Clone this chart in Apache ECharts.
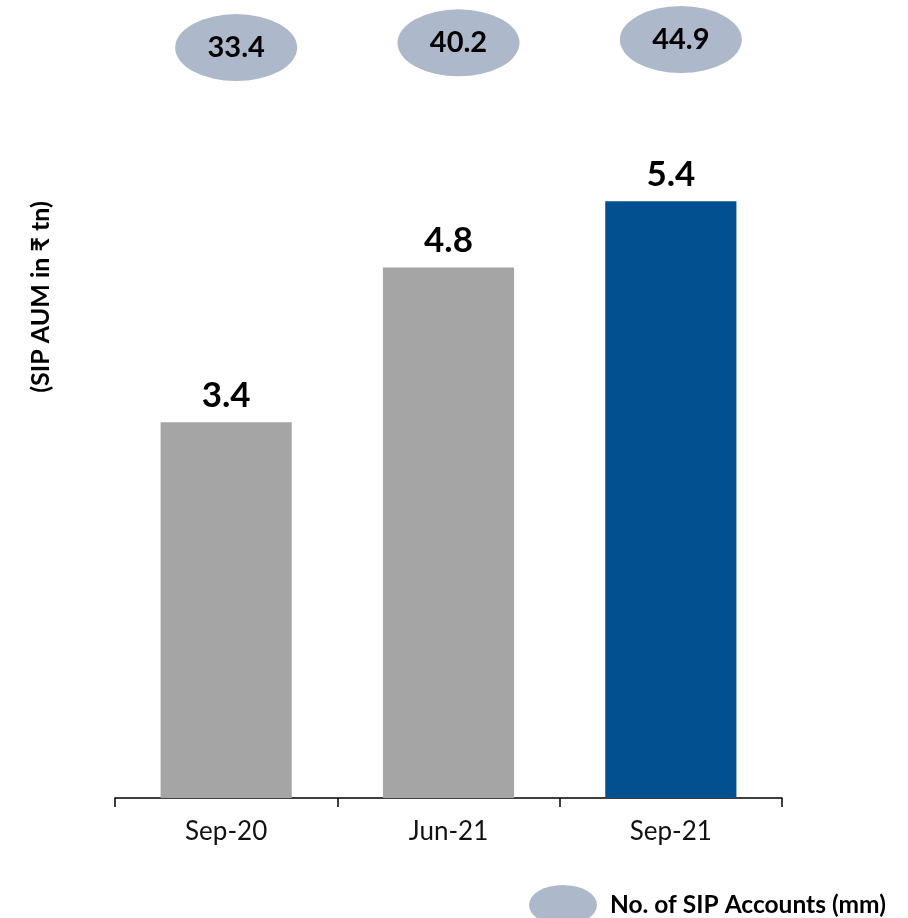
<!DOCTYPE html>
<html>
<head>
<meta charset="utf-8">
<script src="https://cdn.jsdelivr.net/npm/echarts@6/dist/echarts.min.js"></script>
<style>
  html, body { margin: 0; padding: 0; background: #ffffff; }
  #chart { width: 908px; height: 918px; }
</style>
</head>
<body>
<div id="chart"></div>
<script>
// Periods on the x axis
const categories = ['Sep-20', 'Jun-21', 'Sep-21'];
// SIP AUM, ₹ trillion
const aumValues = [3.4, 4.8, 5.4];
// Number of SIP accounts, millions
const accountValues = [33.4, 40.2, 44.9];
const barColors = ['#A5A5A5', '#A5A5A5', '#02508F'];

const FONT = 'Lato, "Noto Sans", "DejaVu Sans", sans-serif';
const ELLIPSE = 'path://M0,50 A50,50 0 1,1 100,50 A50,50 0 1,1 0,50 Z';

const chart = echarts.init(document.getElementById('chart'), null, { renderer: 'canvas' });

chart.setOption({
  backgroundColor: '#ffffff',
  animation: false,
  textStyle: { fontFamily: FONT },
  grid: [
    { left: 115, right: 126, top: 135, bottom: 120 },
    { left: 125, right: 116, top: 36, height: 14 }
  ],
  xAxis: [
    {
      type: 'category',
      gridIndex: 0,
      data: categories,
      axisLine: { show: true, lineStyle: { color: '#000000', width: 1.5 } },
      axisTick: { show: true, alignWithLabel: false, length: 9, lineStyle: { color: '#000000', width: 1.5 } },
      axisLabel: { color: '#111111', fontSize: 26, fontFamily: FONT, margin: 21 },
      splitLine: { show: false }
    },
    {
      type: 'category',
      gridIndex: 1,
      data: categories,
      show: false
    }
  ],
  yAxis: [
    {
      type: 'value',
      gridIndex: 0,
      min: 0,
      max: 6,
      show: false
    },
    {
      type: 'value',
      gridIndex: 1,
      min: 30,
      max: 50,
      show: false
    }
  ],
  legend: {
    left: 524,
    top: 880,
    itemWidth: 68,
    itemHeight: 40,
    symbolKeepAspect: false,
    data: [{ name: 'No. of SIP Accounts (mm)', icon: ELLIPSE }],
    itemStyle: { opacity: 1 },
    textStyle: {
      color: '#000000',
      fontSize: 24.5,
      fontWeight: 'bold',
      fontFamily: FONT,
      padding: [0, 0, 0, 8]
    }
  },
  graphic: [
    {
      type: 'text',
      x: 41,
      y: 297,
      rotation: Math.PI / 2,
      style: {
        text: '(SIP AUM in ₹ tn)',
        fontSize: 25,
        fontWeight: 'bold',
        fontFamily: FONT,
        fill: '#000000',
        align: 'center',
        verticalAlign: 'middle'
      }
    }
  ],
  series: [
    {
      name: 'SIP AUM',
      type: 'bar',
      xAxisIndex: 0,
      yAxisIndex: 0,
      barWidth: '59%',
      data: aumValues.map((v, i) => ({ value: v, itemStyle: { color: barColors[i] } })),
      label: {
        show: true,
        position: 'top',
        distance: 9,
        color: '#000000',
        fontSize: 35,
        fontWeight: 'bold',
        fontFamily: FONT,
        formatter: p => p.value.toFixed(1)
      }
    },
    {
      name: 'No. of SIP Accounts (mm)',
      type: 'scatter',
      xAxisIndex: 1,
      yAxisIndex: 1,
      clip: false,
      symbol: ELLIPSE,
      symbolKeepAspect: false,
      symbolSize: [122, 67],
      itemStyle: { color: '#ADB9CA', opacity: 1 },
      data: accountValues,
      label: {
        show: true,
        position: 'inside',
        color: '#000000',
        fontSize: 29,
        fontWeight: 'bold',
        fontFamily: FONT,
        formatter: p => p.value.toFixed(1)
      }
    }
  ]
});
</script>
</body>
</html>
